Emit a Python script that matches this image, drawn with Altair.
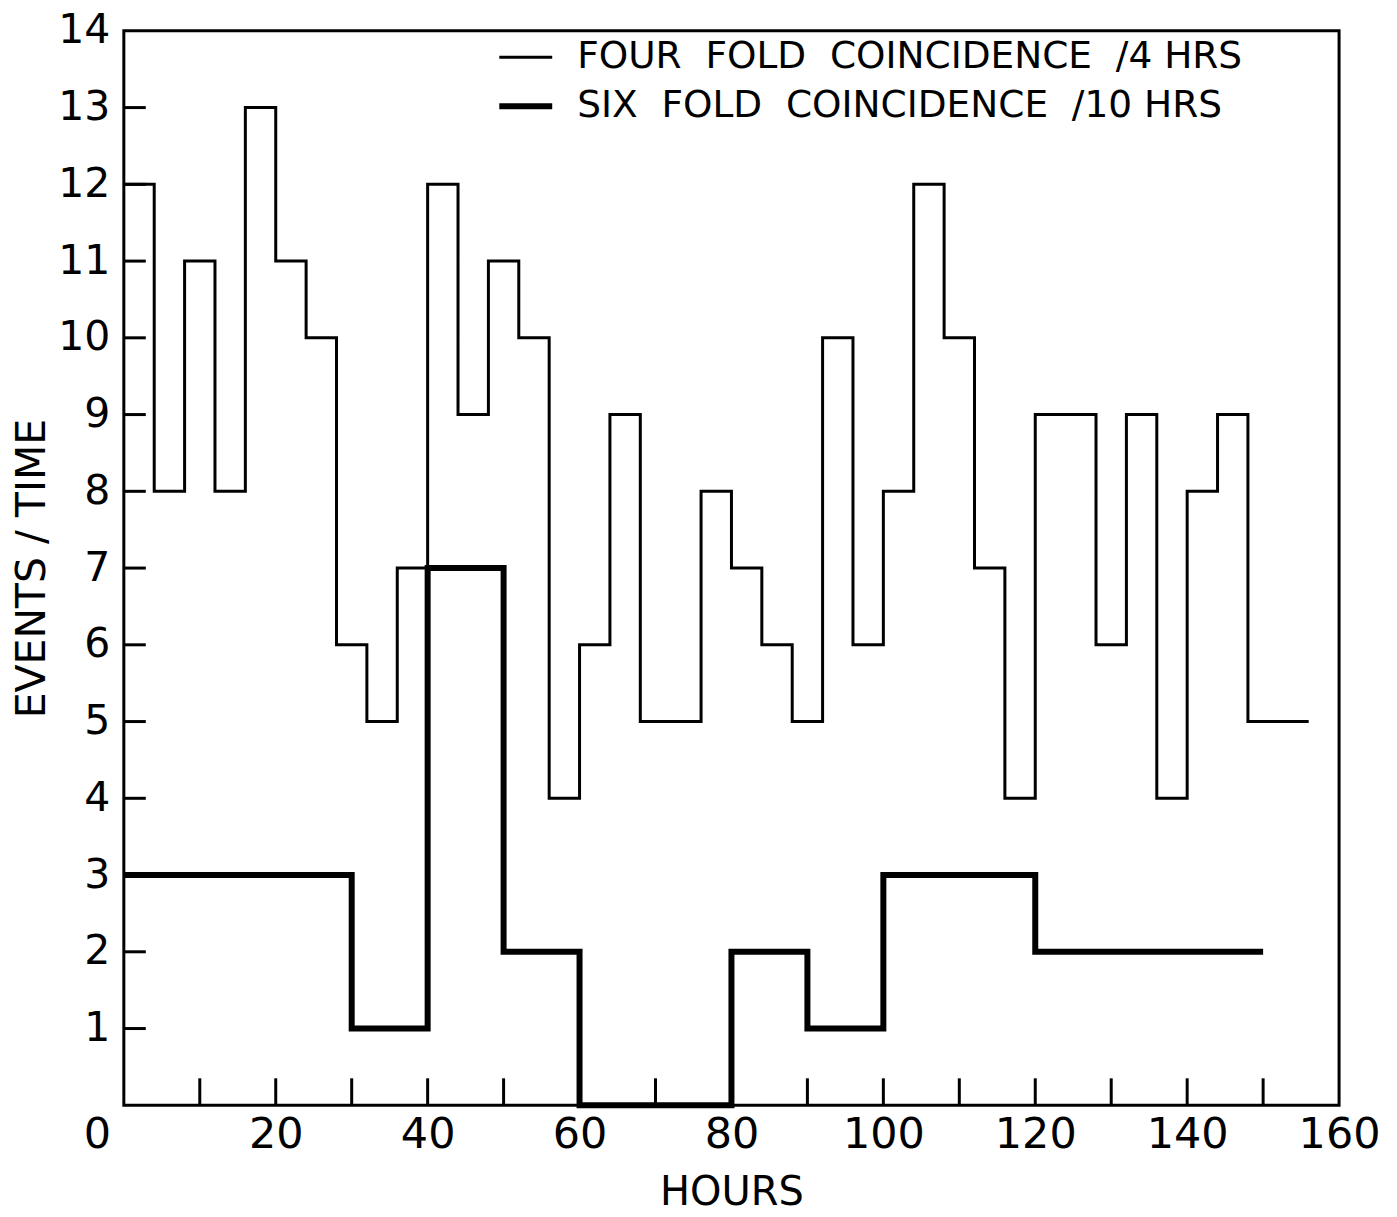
import altair as alt
import pandas as pd

# ---- data ----
four_edges = [0, 4, 8, 12, 16, 20, 24, 28, 32, 36, 40, 44, 48, 52, 56, 60, 64, 68, 72, 76,
              80, 84, 88, 92, 96, 100, 104, 108, 112, 116, 120, 124, 128, 132, 136, 140, 144,
              148, 152, 156]
four_counts = [12, 8, 11, 8, 13, 11, 10, 6, 5, 7, 12, 9, 11, 10, 4, 6, 9, 5, 5, 8,
               7, 6, 5, 10, 6, 8, 12, 10, 7, 4, 9, 9, 6, 9, 4, 8, 9, 5, 5]
six_edges = [0, 10, 20, 30, 40, 50, 60, 70, 80, 90, 100, 110, 120, 130, 140, 150]
six_counts = [3, 3, 3, 1, 7, 2, 0, 0, 2, 1, 3, 3, 2, 2, 2]

NB = "\u00a0"
FOUR = f"FOUR{NB}{NB}FOLD{NB}{NB}COINCIDENCE{NB}{NB}/4{NB}HRS"
SIX = f"SIX{NB}{NB}FOLD{NB}{NB}COINCIDENCE{NB}{NB}/10{NB}HRS"

x_label_values = [0, 20, 40, 60, 80, 100, 120, 140, 160]
y_label_values = [1, 2, 3, 4, 5, 6, 7, 8, 9, 10, 11, 12, 13, 14]
x_tick_values = [10, 20, 30, 40, 50, 60, 70, 80, 90, 100, 110, 120, 130, 140, 150]
y_tick_values = [1, 2, 3, 4, 5, 6, 7, 8, 9, 10, 11, 12, 13]

rows = []
for edges, counts, name in [(four_edges, four_counts, FOUR), (six_edges, six_counts, SIX)]:
    for i, e in enumerate(edges):
        rows.append({"hours": e, "events": counts[min(i, len(counts) - 1)], "series": name})
df = pd.DataFrame(rows)

W, H = 1217, 1076
FONT = "DejaVu Sans"

x_scale = alt.Scale(domain=[0, 160], nice=False, zero=False)
y_scale = alt.Scale(domain=[0, 14], nice=False)

x_axis = alt.Axis(values=x_label_values, title="HOURS", labelPadding=8, titlePadding=16,
                  labelFlush=False, titleFontSize=40, labelFontSize=43,
                  labelOffset={"condition": {"test": "datum.value === 0", "value": -27}, "value": 0})
y_axis = alt.Axis(values=y_label_values, title="EVENTS / TIME", labelPadding=14, titlePadding=4,
                  labelFlush=False, labelFontSize=41, titleFontSize=41)

lines = alt.Chart(df).mark_line(interpolate="step-after", color="black",
                                strokeJoin="miter", strokeCap="butt").encode(
    x=alt.X("hours:Q", scale=x_scale, axis=x_axis),
    y=alt.Y("events:Q", scale=y_scale, axis=y_axis),
    strokeWidth=alt.StrokeWidth(
        "series:N",
        scale=alt.Scale(domain=[FOUR, SIX], range=[3, 6]),
        legend=alt.Legend(orient="none", legendX=373, legendY=2, title=None,
                          symbolType="stroke", symbolSize=2809, symbolStrokeColor="black",
                          labelFont=FONT, labelFontSize=37.5, labelColor="black",
                          labelLimit=2000, labelOffset=22, padding=0, rowPadding=0,
                          clipHeight=49),
    ),
    detail="series:N",
)

xt = alt.Chart(pd.DataFrame({"hours": x_tick_values})).mark_rule(color="black", strokeWidth=3).encode(
    x=alt.X("hours:Q", scale=x_scale, axis=x_axis),
    y=alt.value(H),
    y2=alt.value(H - 27),
)
yt = alt.Chart(pd.DataFrame({"events": y_tick_values})).mark_rule(color="black", strokeWidth=3).encode(
    y=alt.Y("events:Q", scale=y_scale, axis=y_axis),
    x=alt.value(0),
    x2=alt.value(22),
)

chart = alt.layer(lines, xt, yt).properties(
    width=W, height=H,
    autosize=alt.AutoSizeParams(type="none"),
    padding={"left": 116, "top": 22, "right": 50, "bottom": 110},
    background="white",
).configure_view(stroke="black", strokeWidth=3).configure_axis(
    domain=False, ticks=False, grid=False,
    labelFont=FONT, titleFont=FONT, labelColor="black", titleColor="black",
    titleFontWeight="normal",
)

chart.save("out.html", embed_options={"renderer": "svg", "actions": False})
